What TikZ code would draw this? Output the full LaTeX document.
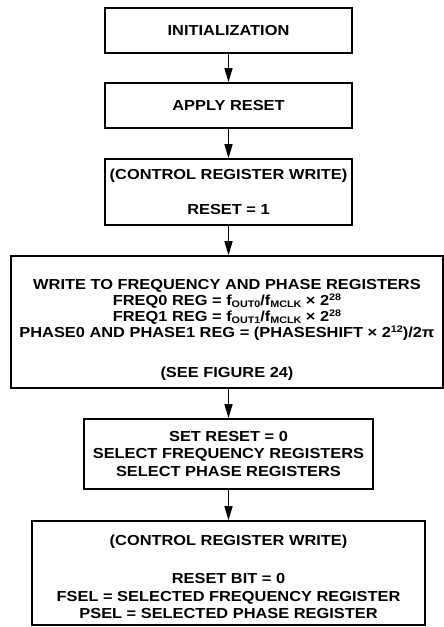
\documentclass[tikz,border=0pt]{standalone}
\usepackage{fontspec}
\newfontfamily\flowfont[FakeStretch=1.13]{Liberation Sans}
\usetikzlibrary{arrows.meta}
\newcommand{\regsub}[1]{\raisebox{-2.5pt}{\fontsize{9.5}{9.5}\selectfont #1}}
\newcommand{\regsup}[1]{\raisebox{4.5pt}{\fontsize{9.5}{9.5}\selectfont #1}}
\tikzset{
  flowbox/.style={draw=black,line width=1.6pt,align=center,inner sep=0pt,
    font=\flowfont\bfseries\fontsize{14.5}{17.5}\selectfont},
  flowarrow/.style={-{Triangle[length=14pt,width=8pt]},line width=1.5pt},
  every picture/.style={line join=miter}
}

\begin{document}
\begin{tikzpicture}[x=1pt,y=-1pt]
  \useasboundingbox (0,0) rectangle (444,627);
  \node[flowbox,minimum width=247pt,minimum height=45pt] (init) at (228.5,30.5) {INITIALIZATION};
  \node[flowbox,minimum width=247pt,minimum height=45pt] (reset) at (228.5,105.5) {APPLY RESET};
  \node[flowbox,minimum width=247pt,minimum height=66pt] (ctrlone) at (228.5,192) {(CONTROL REGISTER WRITE)\\[17.5pt]RESET = 1};
  \node[flowbox,minimum width=432pt,minimum height=132pt,
        font=\flowfont\bfseries\fontsize{14.5}{16}\selectfont] (writeregs) at (227,322)
    {\rule{0pt}{25pt}WRITE TO FREQUENCY AND PHASE REGISTERS\\
     FREQ0 REG = f\regsub{OUT0}/f\regsub{MCLK} × 2\regsup{28}\\
     FREQ1 REG = f\regsub{OUT1}/f\regsub{MCLK} × 2\regsup{28}\\
     PHASE0 AND PHASE1 REG = (PHASESHIFT × 2\regsup{12})/2π\\[24pt]
     (SEE FIGURE 24)};
  \node[flowbox,minimum width=289pt,minimum height=70pt] (selregs) at (228.5,454)
    {SET RESET = 0\\SELECT FREQUENCY REGISTERS\\SELECT PHASE REGISTERS};
  \node[flowbox,minimum width=393pt,minimum height=104pt] (ctrltwo) at (228.5,573)
    {\rule{0pt}{18pt}(CONTROL REGISTER WRITE)\\[21pt]RESET BIT = 0\\
     FSEL = SELECTED FREQUENCY REGISTER\\PSEL = SELECTED PHASE REGISTER};
  % arrows
  \draw[flowarrow] (init.south) -- (reset.north);
  \draw[flowarrow] (reset.south) -- (ctrlone.north);
  \draw[flowarrow] (ctrlone.south) -- (ctrlone.south |- writeregs.north);
  \draw[flowarrow] (selregs.north |- writeregs.south) -- (selregs.north);
  \draw[flowarrow] (selregs.south) -- (ctrltwo.north);
\end{tikzpicture}
\end{document}
